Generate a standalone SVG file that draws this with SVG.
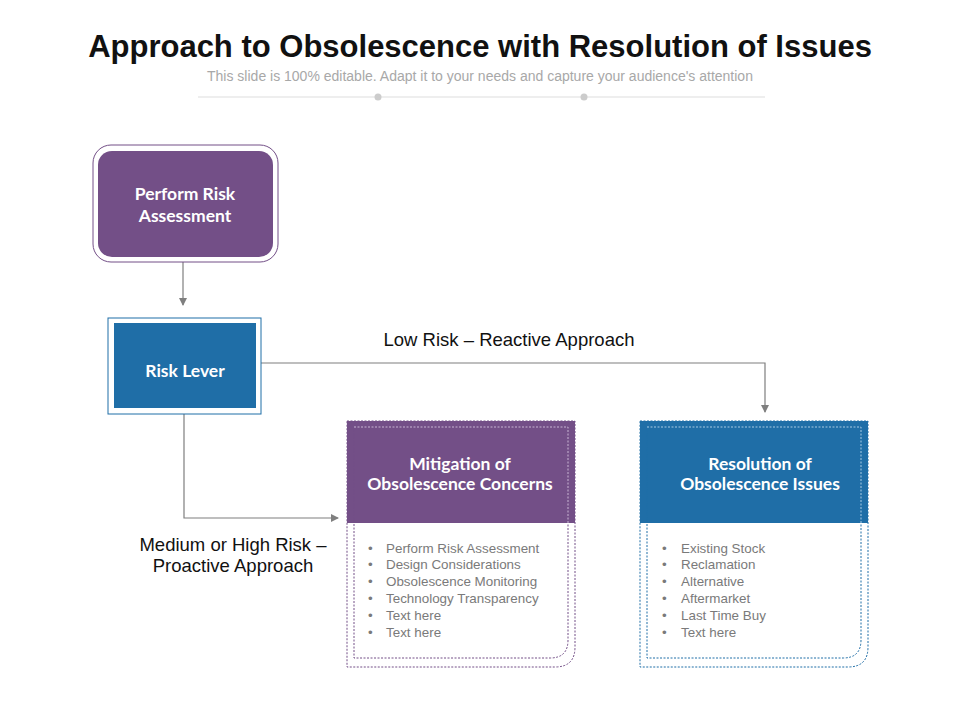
<svg xmlns="http://www.w3.org/2000/svg" width="960" height="720" viewBox="0 0 960 720">
<style>
.t{font-family:"Open Sans","Liberation Sans",sans-serif}
.h{font-family:Lato,"Liberation Sans",sans-serif;font-weight:bold;fill:#fff;font-size:17.5px;text-anchor:middle}
.b{font-family:"Liberation Sans",sans-serif;font-size:13.4px;fill:#7a7a7a}
.c{fill:none;stroke:#7f7f7f;stroke-width:1.2}
.lbl{font-family:"Liberation Sans",sans-serif;font-size:18.5px;fill:#111;text-anchor:middle}
</style>
<defs>
<marker id="a" markerWidth="8" markerHeight="8" refX="7" refY="4" orient="auto" markerUnits="userSpaceOnUse"><path d="M0,0 L8,4 L0,8z" fill="#7f7f7f"/></marker>
</defs>
<rect width="960" height="720" fill="#fff"/>
<text x="480" y="57" text-anchor="middle" font-family="Liberation Sans,sans-serif" font-weight="bold" font-size="31" fill="#111">Approach to Obsolescence with Resolution of Issues</text>
<text x="480" y="81" text-anchor="middle" font-family="Liberation Sans,sans-serif" font-size="14" fill="#a8a8a8">This slide is 100% editable. Adapt it to your needs and capture your audience's attention</text>
<line x1="198" y1="97" x2="765" y2="97" stroke="#ddd"/>
<circle cx="378" cy="97" r="3.5" fill="#ccc"/><circle cx="584" cy="97" r="3.5" fill="#ccc"/>
<g id="connectors">
<path class="c" d="M183,262 V305" marker-end="url(#a)"/>
<path class="c" d="M261,363 H765 V412" marker-end="url(#a)"/>
<path class="c" d="M184,414 V518 H338" marker-end="url(#a)"/>
<text class="lbl" x="509" y="346">Low Risk – Reactive Approach</text>
<text class="lbl" x="233" y="551">Medium or High Risk –</text>
<text class="lbl" x="233" y="572">Proactive Approach</text>
</g>
<g id="perform">
<rect x="93" y="145" width="185" height="117" rx="18" fill="#fff" stroke="#734f87"/>
<rect x="98" y="151" width="175" height="106" rx="14" fill="#734f87"/>
<text class="h" x="185" y="200" font-size="19">Perform Risk</text>
<text class="h" x="185" y="222" font-size="19">Assessment</text>
</g>
<g id="lever">
<rect x="108" y="318" width="153" height="96" fill="#fff" stroke="#1f6ea7"/>
<rect x="114" y="323" width="142" height="85" fill="#1f6ea7"/>
<text class="h" x="185" y="377" font-size="19">Risk Lever</text>
</g>
<g id="mitigation">
<path d="M347,421 H575 V647 Q575,667 555,667 H347 Z" fill="#fff" stroke="#734f87" stroke-dasharray="2,1.5"/>
<rect x="347" y="421" width="228" height="102" fill="#734f87"/>
<path d="M354,427 H568 V640 Q568,658 550,658 H354 Z" fill="none" stroke="#734f87" stroke-dasharray="2,1.5"/>
<path d="M354,427 H568 V523" fill="none" stroke="#c9b6d3" stroke-dasharray="2,1.5"/>
<text class="h" x="460" y="470">Mitigation of</text>
<text class="h" x="460" y="490">Obsolescence Concerns</text>
<g class="b">
<text x="368" y="553">•</text><text x="386" y="553">Perform Risk Assessment</text>
<text x="368" y="569">•</text><text x="386" y="569">Design Considerations</text>
<text x="368" y="586">•</text><text x="386" y="586">Obsolescence Monitoring</text>
<text x="368" y="603">•</text><text x="386" y="603">Technology Transparency</text>
<text x="368" y="620">•</text><text x="386" y="620">Text here</text>
<text x="368" y="637">•</text><text x="386" y="637">Text here</text>
</g>
</g>
<g id="resolution">
<path d="M640,421 H868 V647 Q868,667 848,667 H640 Z" fill="#fff" stroke="#1f6ea7" stroke-dasharray="2,1.5"/>
<rect x="640" y="421" width="228" height="102" fill="#1f6ea7"/>
<path d="M647,427 H861 V640 Q861,658 843,658 H647 Z" fill="none" stroke="#1f6ea7" stroke-dasharray="2,1.5"/>
<path d="M647,427 H861 V523" fill="none" stroke="#a9cbe3" stroke-dasharray="2,1.5"/>
<text class="h" x="760" y="470">Resolution of</text>
<text class="h" x="760" y="490">Obsolescence Issues</text>
<g class="b">
<text x="662" y="553">•</text><text x="681" y="553">Existing Stock</text>
<text x="662" y="569">•</text><text x="681" y="569">Reclamation</text>
<text x="662" y="586">•</text><text x="681" y="586">Alternative</text>
<text x="662" y="603">•</text><text x="681" y="603">Aftermarket</text>
<text x="662" y="620">•</text><text x="681" y="620">Last Time Buy</text>
<text x="662" y="637">•</text><text x="681" y="637">Text here</text>
</g>
</g>
</svg>
